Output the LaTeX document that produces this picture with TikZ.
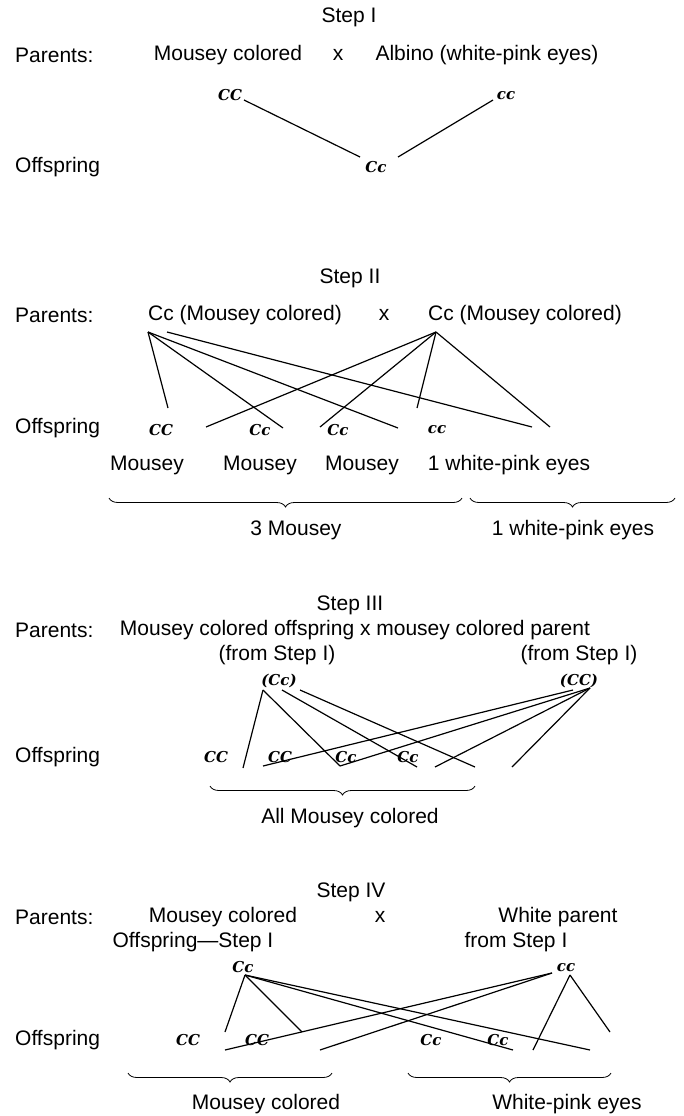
\documentclass[tikz,border=0pt]{standalone}
\usepackage{fontspec}
\setmainfont{Liberation Sans}
\newfontfamily\genofont{DejaVu Serif}
\usetikzlibrary{decorations.pathreplacing}
\tikzset{
  txt/.style={font=\fontsize{21}{25}\selectfont, inner sep=0pt},
  lbl/.style={txt, anchor=west},
  geno/.style={font=\genofont\bfseries\itshape\fontsize{15}{18}\selectfont, inner sep=0pt},
  link/.style={line width=1.2pt},
  brc/.style={decorate, decoration={brace, mirror, amplitude=9pt}, line width=0.8pt},
}
\begin{document}
\begin{tikzpicture}[x=1pt,y=-1pt]
\useasboundingbox[fill=white] (0,0) rectangle (684,1116);

% ---------------- Step I ----------------
\node[txt] (t1) at (349,17) {Step I};
\node[lbl] (p1) at (15,55) {Parents:};
\node[txt] (p1a) at (228,55) {Mousey colored};
\node[txt] (p1x) at (338,55) {x};
\node[txt] (p1b) at (487,55) {Albino (white-pink eyes)};
\node[geno] (g1a) at (230,95) {CC};
\node[geno] (g1b) at (506,96) {cc};
\node[lbl] (o1) at (15,167) {Offspring};
\node[geno] (g1c) at (376,167) {Cc};
\coordinate (a1) at (244,100);
\coordinate (a2) at (360,157);
\coordinate (a3) at (398,157);
\coordinate (a4) at (493,100);
\draw[link] (a1) -- (a2);
\draw[link] (a3) -- (a4);

% ---------------- Step II ----------------
\node[txt] (t2) at (350,278) {Step II};
\node[lbl] (p2) at (15,315) {Parents:};
\node[txt] (p2a) at (245,315) {Cc (Mousey colored)};
\node[txt] (p2x) at (384,315) {x};
\node[txt] (p2b) at (525,315) {Cc (Mousey colored)};
\node[lbl] (o2) at (15,428) {Offspring};
\node[geno] (g2a) at (161,430) {CC};
\node[geno] (g2b) at (260,430) {Cc};
\node[geno] (g2c) at (338,430) {Cc};
\node[geno] (g2d) at (437,430) {cc};
\node[txt] (m2a) at (147,465) {Mousey};
\node[txt] (m2b) at (260,465) {Mousey};
\node[txt] (m2c) at (362,465) {Mousey};
\node[txt] (m2d) at (509,465) {1 white-pink eyes};
\coordinate (L2) at (148,332);
\coordinate (L2b) at (167,332);
\coordinate (R2) at (436,332);
\coordinate (e2a) at (168,408);
\coordinate (e2b) at (283,428);
\coordinate (e2c) at (398,428);
\coordinate (e2d) at (532,427);
\coordinate (e2e) at (206,427);
\coordinate (e2f) at (320,427);
\coordinate (e2g) at (417,408);
\coordinate (e2h) at (550,427);
\draw[link] (L2) -- (e2a);
\draw[link] (L2) -- (e2b);
\draw[link] (L2) -- (e2c);
\draw[link] (L2b) -- (e2d);
\draw[link] (R2) -- (e2e);
\draw[link] (R2) -- (e2f);
\draw[link] (R2) -- (e2g);
\draw[link] (R2) -- (e2h);
\coordinate (b2a) at (109,498);
\coordinate (b2b) at (462,498);
\coordinate (b2c) at (470,498);
\coordinate (b2d) at (675,498);
\draw[brc] (b2a) -- (b2b);
\draw[brc] (b2c) -- (b2d);
\node[txt] (s2a) at (296,530) {3 Mousey};
\node[txt] (s2b) at (573,530) {1 white-pink eyes};

% ---------------- Step III ----------------
\node[txt] (t3) at (350,605) {Step III};
\node[lbl] (p3) at (15,630) {Parents:};
\node[txt] (p3a) at (355,630) {Mousey colored offspring x mousey colored parent};
\node[txt] (f3a) at (277,655) {(from Step I)};
\node[txt] (f3b) at (579,655) {(from Step I)};
\node[geno] (g3p) at (279,681) {(Cc)};
\node[geno] (g3q) at (579,681) {(CC)};
\node[lbl] (o3) at (15,757) {Offspring};
\node[geno] (g3a) at (216,757) {CC};
\node[geno] (g3b) at (280,757) {CC};
\node[geno] (g3c) at (346,757) {Cc};
\node[geno] (g3d) at (408,757) {Cc};
\coordinate (L3) at (263,690);
\coordinate (L3b) at (282,690);
\coordinate (L3c) at (300,690);
\coordinate (R3) at (590,688);
\coordinate (R3b) at (573,690);
\coordinate (e3a) at (243,768);
\coordinate (e3b) at (340,766);
\coordinate (e3c) at (417,767);
\coordinate (e3d) at (475,767);
\coordinate (e3e) at (263,766);
\coordinate (e3g) at (435,767);
\coordinate (e3h) at (512,767);
\draw[link] (L3) -- (e3a);
\draw[link] (L3) -- (e3b);
\draw[link] (L3b) -- (e3c);
\draw[link] (L3c) -- (e3d);
\draw[link] (R3b) -- (e3e);
\draw[link] (R3) -- (e3b);
\draw[link] (R3) -- (e3g);
\draw[link] (R3) -- (e3h);
\coordinate (b3a) at (210,786);
\coordinate (b3b) at (475,786);
\draw[brc] (b3a) -- (b3b);
\node[txt] (s3) at (350,818) {All Mousey colored};

% ---------------- Step IV ----------------
\node[txt] (t4) at (351,892) {Step IV};
\node[lbl] (p4) at (15,917) {Parents:};
\node[txt] (p4a) at (223,917) {Mousey colored};
\node[txt] (p4x) at (380,917) {x};
\node[txt] (p4b) at (558,917) {White parent};
\node[txt] (f4a) at (193,942) {Offspring—Step I};
\node[txt] (f4b) at (516,942) {from Step I};
\node[geno] (g4p) at (243,967) {Cc};
\node[geno] (g4q) at (566,968) {cc};
\node[lbl] (o4) at (15,1040) {Offspring};
\node[geno] (g4a) at (188,1040) {CC};
\node[geno] (g4b) at (257,1040) {CC};
\node[geno] (g4c) at (431,1040) {Cc};
\node[geno] (g4d) at (498,1040) {Cc};
\coordinate (L4) at (245,975);
\coordinate (R4) at (570,975);
\coordinate (R4b) at (552,973);
\coordinate (e4a) at (225,1032);
\coordinate (e4b) at (302,1032);
\coordinate (e4c) at (513,1050);
\coordinate (e4d) at (590,1050);
\coordinate (e4e) at (225,1050);
\coordinate (e4f) at (320,1050);
\coordinate (e4g) at (533,1050);
\coordinate (e4h) at (610,1032);
\draw[link] (L4) -- (e4a);
\draw[link] (L4) -- (e4b);
\draw[link] (L4) -- (e4c);
\draw[link] (L4) -- (e4d);
\draw[link] (R4b) -- (e4e);
\draw[link] (R4b) -- (e4f);
\draw[link] (R4) -- (e4g);
\draw[link] (R4) -- (e4h);
\coordinate (b4a) at (128,1073);
\coordinate (b4b) at (332,1073);
\coordinate (b4c) at (408,1073);
\coordinate (b4d) at (611,1073);
\draw[brc] (b4a) -- (b4b);
\draw[brc] (b4c) -- (b4d);
\node[txt] (s4a) at (266,1104) {Mousey colored};
\node[txt] (s4b) at (567,1104) {White-pink eyes};
\end{tikzpicture}
\end{document}
